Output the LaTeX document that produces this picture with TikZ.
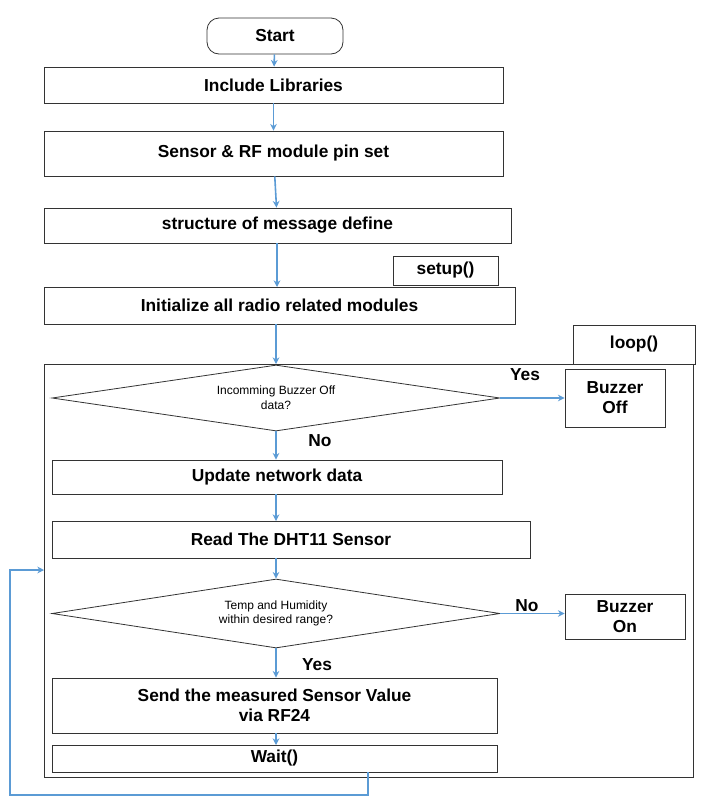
\documentclass[tikz,border=0pt]{standalone}
\usepackage{fontspec}
\setmainfont{Liberation Sans}
\usetikzlibrary{shapes.geometric,arrows.meta}
\definecolor{ab}{RGB}{91,155,213}
\begin{document}
\begin{tikzpicture}[x=0.75pt,y=-0.75pt,
  box/.style={draw=black!80,line width=0.6pt,minimum height=#1*0.75pt,inner sep=0pt,font=\bfseries\fontsize{13}{15}\selectfont,align=center},
  box/.default=36,
  dia/.style={draw=black!80,line width=0.6pt,diamond,aspect=6.8,inner sep=0pt,font=\fontsize{9}{11}\selectfont,align=center},
  arr/.style={draw=ab,line width=1.2pt,-{Stealth[length=5pt,width=5pt]}},
  lab/.style={font=\bfseries\fontsize{13}{15}\selectfont}]
\useasboundingbox (0,0) rectangle (711,800);
\node[box,rounded corners=9pt,minimum width=136*0.75pt] (start) at (275,36) {Start};
\node[box,minimum width=459*0.75pt] (lib) at (273.5,85) {Include Libraries};
\node[box=45,minimum width=459*0.75pt] (pin) at (273.5,153.5) {Sensor \& RF module pin set};
\node[box=35,minimum width=467*0.75pt] (msg) at (277.5,225.5) {structure of message define};
\node[box=29,minimum width=105*0.75pt] (setup) at (445.5,270.5) {setup()};
\node[box=37,minimum width=471*0.75pt] (init) at (279.5,305.5) {Initialize all radio related modules};
\node[box=39,minimum width=122*0.75pt] (loop) at (634,344.5) {loop()};
\draw[black!80,line width=0.6pt] (44,364) rectangle (693,777);
\node[dia,minimum width=448*0.75pt,minimum height=66*0.75pt] (d1) at (276,398) {Incomming Buzzer Off\\data?};
\node[box=58,minimum width=100*0.75pt] (boff) at (615,398) {Buzzer\\Off};
\node[box=34,minimum width=450*0.75pt] (upd) at (277,477) {Update network data};
\node[box=37,minimum width=478*0.75pt] (dht) at (291,539.5) {Read The DHT11 Sensor};
\node[dia,minimum width=448*0.75pt,minimum height=69*0.75pt] (d2) at (276,613.5) {Temp and Humidity\\within desired range?};
\node[box=45,minimum width=120*0.75pt] (bon) at (625,616.5) {Buzzer\\On};
\node[box=55,minimum width=445*0.75pt] (send) at (274.5,705.5) {Send the measured Sensor Value\\via RF24};
\node[box=27,minimum width=445*0.75pt] (wait) at (274.5,758.5) {Wait()};
\node[lab] at (525,375) {Yes};
\node[lab] at (320,441) {No};
\node[lab] at (527,606) {No};
\node[lab] at (317,665) {Yes};
\coordinate (ls) at (44,570);
\draw[arr] (start) -- (lib);
\draw[arr] (lib) -- (pin);
\draw[arr] (pin) -- (msg);
\draw[arr] (msg.south -| 277,0) -- (277,287);
\draw[arr] (init.south -| 276,0) -- (276,364);
\draw[arr] (d1) -- (boff);
\draw[arr] (d1.south) -- (d1.south |- upd.north);
\draw[arr] (upd.south -| 276,0) -- (276,521);
\draw[arr] (dht.south -| d2) -- (d2);
\draw[arr] (d2) -- (bon.west |- d2);
\draw[arr] (d2.south) -- (d2.south |- send.north);
\draw[arr] (send.south -| 276,0) -- (276,745);
\draw[arr] (368,772) -- (368,795) -- (10,795) -- (10,570) -- (ls);
\end{tikzpicture}
\end{document}
